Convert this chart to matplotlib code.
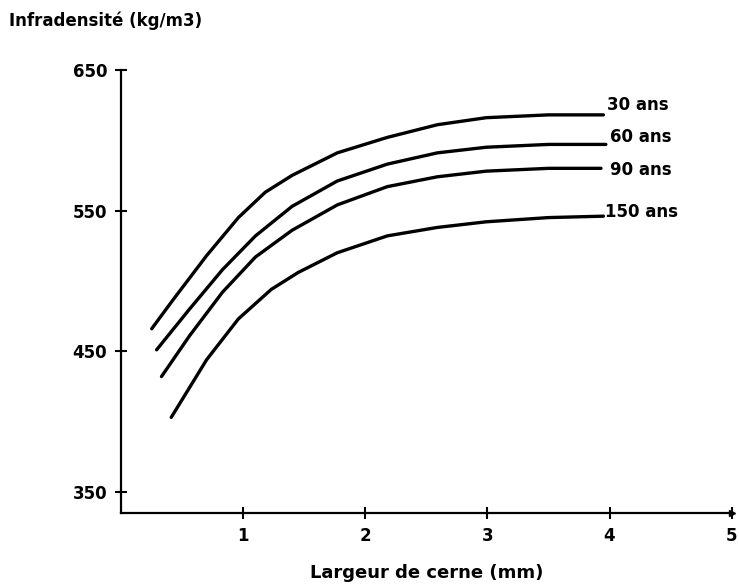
import matplotlib.pyplot as plt

plt.rcParams.update({
    "font.family": "DejaVu Sans",
    "font.weight": "bold",
    "font.size": 12,
})

# ring width (mm) and basic density (kg/m3)
x_30 = [0.25, 0.42, 0.70, 0.96, 1.18, 1.40, 1.77, 2.18, 2.59, 2.99, 3.5, 3.95]
y_30 = [466, 486, 518, 545, 563, 575, 591, 602, 611, 616, 618, 618]
x_60 = [0.29, 0.56, 0.83, 1.10, 1.40, 1.77, 2.18, 2.59, 2.99, 3.5, 3.97]
y_60 = [451, 480, 508, 532, 553, 571, 583, 591, 595, 597, 597]
x_90 = [0.33, 0.56, 0.83, 1.10, 1.40, 1.77, 2.18, 2.59, 2.99, 3.5, 3.93]
y_90 = [432, 461, 492, 517, 536, 554, 567, 574, 578, 580, 580]
x_150 = [0.41, 0.70, 0.96, 1.23, 1.45, 1.77, 2.18, 2.59, 2.99, 3.5, 3.95]
y_150 = [403, 444, 473, 494, 506, 520, 532, 538, 542, 545, 546]

labels = ["30 ans", "60 ans", "90 ans", "150 ans"]
label_x = [3.98, 4.0, 4.0, 3.96]
label_y = [625, 602, 579, 549]

fig = plt.figure(figsize=(7.39, 5.87), dpi=100)
ax = fig.add_axes([0.164, 0.126, 0.826, 0.755])

for xs, ys in [(x_30, y_30), (x_60, y_60), (x_90, y_90), (x_150, y_150)]:
    ax.plot(xs, ys, color="black", lw=2.4, solid_capstyle="round",
            solid_joinstyle="round")

for lab, lx, ly in zip(labels, label_x, label_y):
    ax.text(lx, ly, lab, fontsize=12, fontweight="bold", va="center", ha="left")

ax.set_xlim(0, 5)
ax.set_ylim(335, 650)
ax.set_xticks([1, 2, 3, 4, 5])
ax.set_yticks([350, 450, 550, 650])
ax.tick_params(direction="inout", length=8, width=1.5, labelsize=12, pad=6)
for lab in ax.get_xticklabels() + ax.get_yticklabels():
    lab.set_fontweight("bold")

for side in ["top", "right"]:
    ax.spines[side].set_visible(False)
for side in ["left", "bottom"]:
    ax.spines[side].set_linewidth(1.6)

ax.plot(1, 0, ">k", markersize=5, transform=ax.transAxes, clip_on=False)

ax.set_xlabel("Largeur de cerne (mm)", fontsize=13, fontweight="bold", labelpad=14)
fig.text(0.012, 0.965, "Infradensité (kg/m3)", fontsize=12, fontweight="bold",
         ha="left", va="center")

plt.savefig("out.png", dpi=100)
